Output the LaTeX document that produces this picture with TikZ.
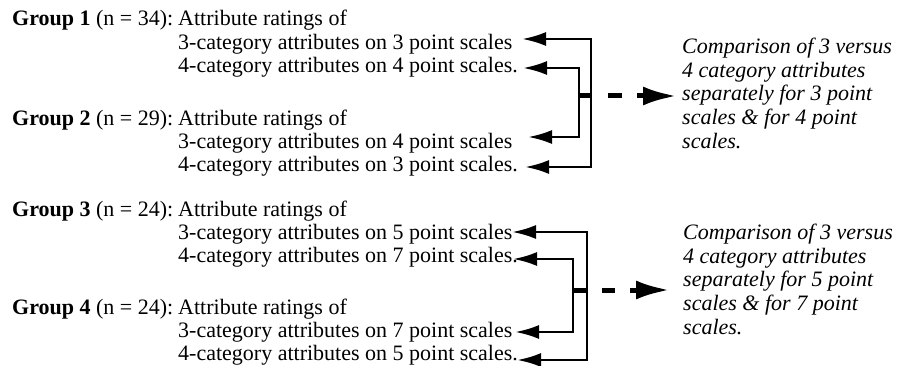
\documentclass[tikz,border=0pt]{standalone}
\usepackage{fontspec}
\setmainfont{Liberation Serif}
\usetikzlibrary{arrows.meta}
\begin{document}
\begin{tikzpicture}[x=1pt,y=-1pt,
  txt/.style={anchor=base west,inner sep=0pt,font=\fontsize{22}{23.6}\selectfont},
  cmp/.style={anchor=north west,inner sep=0pt,align=left,font=\fontsize{22}{23.6}\selectfont\itshape},
  conn/.style={line width=2.8pt,-{Latex[length=24pt,width=14pt]}},
  joinbar/.style={line width=5pt},
  bigarrow/.style={line width=5pt,-{Latex[length=34pt,width=19pt]}}
]
\useasboundingbox[fill=white] (0,0) rectangle (899,366);

% ---- top block ----
\node[txt] (g1) at (12,26) {\textbf{Group 1} (n = 34):};
\node[txt] (r1) at (178,26) {Attribute ratings of};
\node[txt] (a1) at (178,49.5) {3-category attributes on 3 point scales};
\node[txt] (a2) at (178,73) {4-category attributes on 4 point scales.};
\node[txt] (g2) at (12,126) {\textbf{Group 2} (n = 29):};
\node[txt] (r2) at (178,126) {Attribute ratings of};
\node[txt] (a3) at (178,149) {3-category attributes on 4 point scales};
\node[txt] (a4) at (178,171.5) {4-category attributes on 3 point scales.};

\coordinate (t1) at (522,39);
\coordinate (t2) at (523,68);
\coordinate (t3) at (528,137);
\coordinate (t4) at (525,167);
\coordinate (o1) at (591,96);
\coordinate (i1) at (579,96);
\draw[conn] (o1) |- (t1);
\draw[conn] (o1) |- (t4);
\draw[conn] (i1) |- (t2);
\draw[conn] (i1) |- (t3);
\draw[joinbar] (i1) -- (o1);

\node[cmp] (c1) at (682,38) {Comparison of 3 versus\\4 category attributes\\separately for 3 point\\scales \& for 4 point\\scales.};
\coordinate (e1) at (677,96);
\draw[bigarrow,dash pattern=on 0pt off 17pt on 14pt off 15pt on 200pt] (o1) -- (e1);

% ---- bottom block ----
\node[txt] (g3) at (12,216) {\textbf{Group 3} (n = 24):};
\node[txt] (r3) at (178,216) {Attribute ratings of};
\node[txt] (a5) at (178,239) {3-category attributes on 5 point scales};
\node[txt] (a6) at (178,262) {4-category attributes on 7 point scales.};
\node[txt] (g4) at (12,314) {\textbf{Group 4} (n = 24):};
\node[txt] (r4) at (178,314) {Attribute ratings of};
\node[txt] (a7) at (178,337) {3-category attributes on 7 point scales};
\node[txt] (a8) at (178,360) {4-category attributes on 5 point scales.};

\coordinate (t5) at (512,232);
\coordinate (t6) at (513,259);
\coordinate (t7) at (515,332);
\coordinate (t8) at (517,360);
\coordinate (o2) at (587,290);
\coordinate (i2) at (573,290);
\draw[conn] (o2) |- (t5);
\draw[conn] (o2) |- (t8);
\draw[conn] (i2) |- (t6);
\draw[conn] (i2) |- (t7);
\draw[joinbar] (i2) -- (o2);

\node[cmp] (c2) at (683,224) {Comparison of 3 versus\\4 category attributes\\separately for 5 point\\scales \& for 7 point\\scales.};
\coordinate (e2) at (670,290);
\draw[bigarrow,dash pattern=on 0pt off 15pt on 13pt off 15pt on 200pt] (o2) -- (e2);
\end{tikzpicture}
\end{document}
